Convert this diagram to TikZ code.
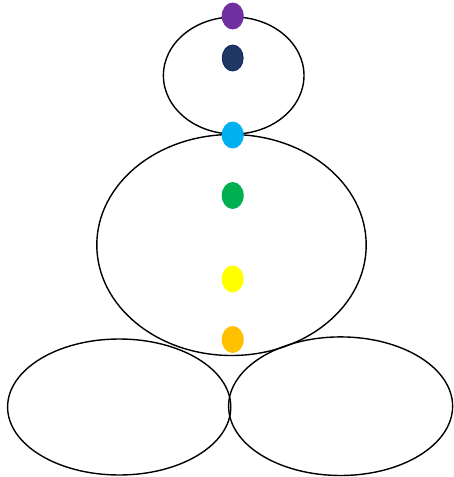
\documentclass[tikz,border=0pt]{standalone}
\usetikzlibrary{shapes.geometric}
\definecolor{cpurple}{HTML}{7030A0}
\definecolor{cnavy}{HTML}{1F3864}
\definecolor{cnavyedge}{HTML}{0A2060}
\definecolor{ccyan}{HTML}{00B0F0}
\definecolor{cgreen}{HTML}{00B050}
\definecolor{cyellow}{HTML}{FFFF00}
\definecolor{corange}{HTML}{FFC000}
\tikzset{
  outline/.style={draw=black, line width=1.4pt},
  dot/.style={ellipse, inner sep=0pt, minimum width=22pt, minimum height=27pt, draw=none}
}
\begin{document}
\begin{tikzpicture}[x=1pt,y=-1pt]
\useasboundingbox (0,0) rectangle (453,477);
\draw[outline] (233.7,75.5) ellipse [x radius=70.3, y radius=58.5];
\draw[outline] (231.5,245) ellipse [x radius=134.7, y radius=110.5];
\draw[outline] (119.2,407) ellipse [x radius=111.6, y radius=68];
\draw[outline] (340.6,406.2) ellipse [x radius=112, y radius=69.3];
\node[dot, fill=cpurple] (purple) at (232.7,16) {};
\node[dot, fill=cnavy, draw=cnavyedge, line width=0.8pt, minimum width=21pt, minimum height=26pt] (navy) at (232.7,58) {};
\node[dot, fill=ccyan] (cyan) at (232.7,135) {};
\node[dot, fill=cgreen] (green) at (232.7,195.5) {};
\node[dot, fill=cyellow] (yellow) at (232.7,279) {};
\node[dot, fill=corange] (orange) at (232.7,339.5) {};
\end{tikzpicture}
\end{document}
